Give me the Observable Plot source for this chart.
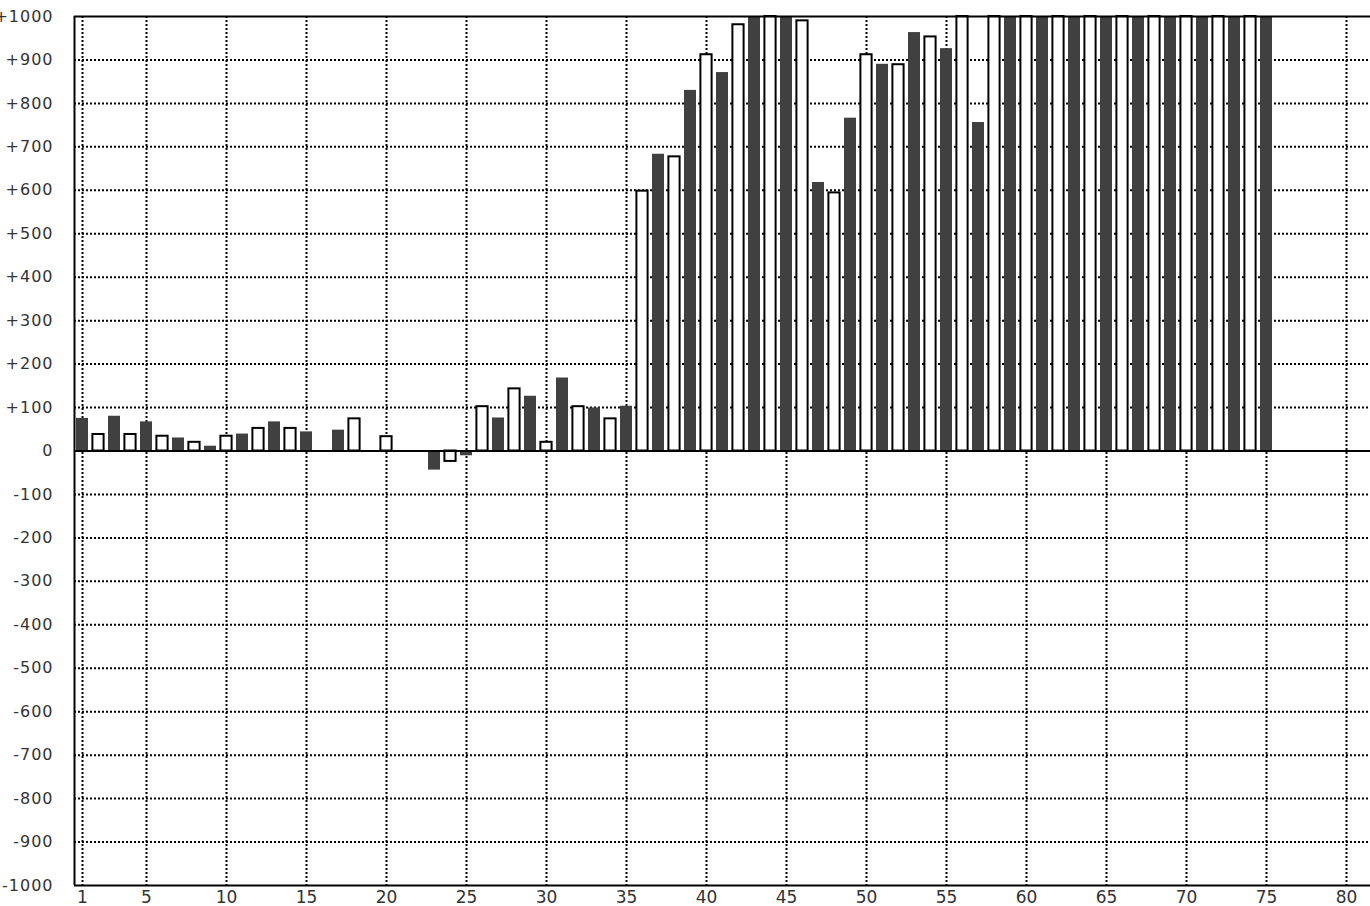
<!DOCTYPE html>
<html>
<head>
<meta charset="utf-8">
<script src="https://cdn.jsdelivr.net/npm/d3@7"></script>
<script src="https://cdn.jsdelivr.net/npm/@observablehq/plot@0.6"></script>
<style>
  html, body { margin: 0; padding: 0; background: #fff; overflow: hidden; }
  #chart svg { display: block; }
  g[aria-label="y-axis tick label"] text { letter-spacing: 1px; }
</style>
</head>
<body>
<div id="chart"></div>
<script>
// Bar values for positions 1..75 (odd = dark bars, even = white bars)
const values = [
  75, 38, 80, 38, 67, 34, 30, 20, 11, 34,
  39, 52, 67, 52, 44, 0, 48, 74, 0, 33,
  0, 0, -44, -24, -11, 102, 76, 143, 126, 20,
  168, 102, 99, 74, 103, 598, 683, 677, 830, 912,
  871, 981, 1000, 1000, 1000, 990, 618, 594, 766, 912,
  890, 889, 963, 953, 926, 1000, 756, 1000, 1000, 1000,
  1000, 1000, 1000, 1000, 1000, 1000, 1000, 1000, 1000, 1000,
  1000, 1000, 1000, 1000, 1000
];
const xTicks = [1, 5, 10, 15, 20, 25, 30, 35, 40, 45, 50, 55, 60, 65, 70, 75, 80];
const yTicks = [-1000, -900, -800, -700, -600, -500, -400, -300, -200, -100, 0,
  100, 200, 300, 400, 500, 600, 700, 800, 900, 1000];
const xDomain = [0.5, 81.5];
const yDomain = [-1000, 1000];

const bars = values.map((v, i) => ({n: i + 1, v})).filter(d => d.v !== 0);
const dark = bars.filter(d => d.n % 2 === 1);
const light = bars.filter(d => d.n % 2 === 0);
const gridY = yTicks.filter(t => t > yDomain[0] && t < yDomain[1] && t !== 0);

const fmtY = d => d > 0 ? "+" + d : d < 0 ? "-" + (-d) : "0";

const chart = Plot.plot({
  width: 1370,
  height: 906,
  marginLeft: 74,
  marginRight: 0,
  marginTop: 16,
  marginBottom: 21,
  style: {fontFamily: "DejaVu Sans", background: "#fff", overflow: "visible"},
  x: {domain: xDomain, axis: null},
  y: {domain: yDomain, axis: null},
  marks: [
    Plot.ruleX(xTicks, {x: d => d, stroke: "#000", strokeWidth: 2, strokeDasharray: "2,2"}),
    Plot.ruleY(gridY, {y: d => d, stroke: "#000", strokeWidth: 2, strokeDasharray: "2,2"}),
    Plot.rectY(dark, {x1: d => d.n - 0.375, x2: d => d.n + 0.375, y1: 0, y2: "v", fill: "#404040"}),
    Plot.rectY(light, {x1: d => d.n - 0.35, x2: d => d.n + 0.35, y1: 0, y2: "v", fill: "#fff", stroke: "#000", strokeWidth: 2}),
    Plot.ruleY([0], {stroke: "#000", strokeWidth: 2}),
    Plot.ruleY([yDomain[1]], {stroke: "#000", strokeWidth: 2}),
    Plot.ruleY([yDomain[0]], {stroke: "#000", strokeWidth: 2}),
    Plot.ruleX([xDomain[0]], {stroke: "#000", strokeWidth: 2}),
    Plot.axisY({ticks: yTicks, tickFormat: fmtY, tickSize: 0, tickPadding: 21, fontSize: 16, fill: "#333", label: null}),
    Plot.axisX({ticks: xTicks, tickFormat: d => String(d), tickSize: 0, tickPadding: 5, fontSize: 17, fill: "#333", label: null})
  ]
});
document.getElementById("chart").appendChild(chart);
</script>
</body>
</html>
